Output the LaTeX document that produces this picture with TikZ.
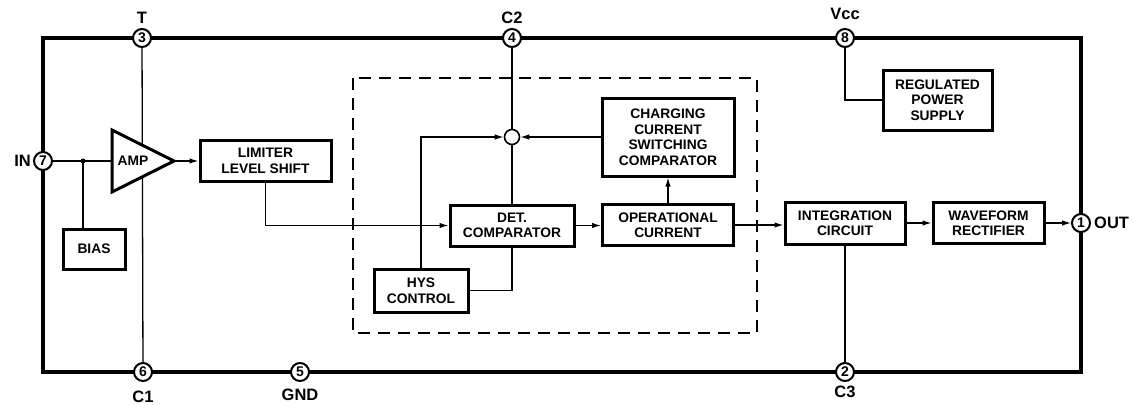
\documentclass[tikz,border=0pt]{standalone}
\usepackage{fontspec}
\setmainfont{Liberation Sans}
\usetikzlibrary{arrows.meta}
\begin{document}
\begin{tikzpicture}[x=1pt,y=-1pt,
 blk/.style={draw,line width=3pt,align=center,inner sep=0pt,font=\fontsize{13.8}{15.5}\selectfont\bfseries},
 pinc/.style={circle,draw,fill=white,line width=2pt,minimum size=18pt,inner sep=0pt,font=\fontsize{14}{14}\selectfont\bfseries},
 plab/.style={font=\fontsize{16.5}{16.5}\selectfont\bfseries,inner sep=0pt},
 wire/.style={line width=1.3pt},
 arr/.style={wire,-{Latex[length=9pt,width=5.5pt]}},
]
\useasboundingbox (0,0) rectangle (1134,404);
% outer border
\draw[line width=3.5pt] (43,38) rectangle (1081,372);
% dashed block
\draw[line width=2.2pt,dash pattern=on 12pt off 8pt] (353,78) rectangle (757,333);
% pins
\node[pinc] (p3) at (142,38) {3};
\node[pinc] (p4) at (512,38) {4};
\node[pinc] (p8) at (845,38) {8};
\node[pinc] (p7) at (43,161) {7};
\node[pinc] (p1) at (1081,223) {1};
\node[pinc] (p6) at (143,372) {6};
\node[pinc] (p5) at (300,372) {5};
\node[pinc] (p2) at (845,372) {2};
% pin labels
\node[plab] (lT) at (142,18) {T};
\node[plab] (lC2) at (512,18) {C2};
\node[plab] (lVcc) at (845,14) {Vcc};
\node[plab,anchor=east] (lIN) at (31,161) {IN};
\node[plab,anchor=west] (lOUT) at (1094,223) {OUT};
\node[plab] (lC1) at (143,397) {C1};
\node[plab] (lGND) at (300,395) {GND};
\node[plab] (lC3) at (845,392) {C3};
% blocks
\node[blk,minimum width=131pt,minimum height=41pt] (lim) at (265.5,161) {LIMITER\\LEVEL SHIFT};
\node[blk,minimum width=62pt,minimum height=40pt] (bias) at (94,249) {BIAS};
\node[blk,minimum width=124pt,minimum height=41pt] (det) at (512,225.5) {DET.\\COMPARATOR};
\node[blk,minimum width=131pt,minimum height=41pt] (oper) at (668,225) {OPERATIONAL\\CURRENT};
\node[blk,minimum width=132pt,minimum height=78pt] (chg) at (668,137) {CHARGING\\CURRENT\\SWITCHING\\COMPARATOR};
\node[blk,minimum width=94pt,minimum height=43pt] (hys) at (421,290.5) {HYS\\CONTROL};
\node[blk,minimum width=120pt,minimum height=42pt] (integ) at (845,223) {INTEGRATION\\CIRCUIT};
\node[blk,minimum width=111pt,minimum height=41pt] (wave) at (988.5,223) {WAVEFORM\\RECTIFIER};
\node[blk,minimum width=109pt,minimum height=60pt] (reg) at (937.5,100) {REGULATED\\POWER\\SUPPLY};
% amplifier
\draw[wire] (p3) -- (p6);
\coordinate (ampin) at (112,161);
\coordinate (amptip) at (174,161);
\draw[line width=3pt,fill=white,line join=miter] (112,130) -- (amptip) -- (112,192) -- cycle;
\node[font=\fontsize{13.8}{13.8}\selectfont\bfseries,inner sep=0pt] (amp) at (133,161) {AMP};
\coordinate (jn) at (83,161);
\draw[wire] (p7) -- (ampin);
\fill (jn) circle (2.5pt);
\draw[wire] (jn) -- (jn |- bias.north);
\draw[arr] (amptip) -- (lim.west);
% summing point
\node[circle,draw,line width=1.6pt,minimum size=15pt,inner sep=0pt] (sum) at (512,137) {};
\draw[wire] (p4) -- (sum.north);
\draw[wire] (sum.south) -- (det.north);
\draw[arr] (chg.west) -- (sum.east);
\draw[arr] (hys.north) |- (sum.west);
\draw[wire] (hys.east) -| (det.south);
\draw[arr] (lim.south) |- (det.west);
\draw[arr] (det.east) -- (det.east -| oper.west);
\draw[arr] (oper.north) -- (chg.south);
\draw[arr] (oper.east) -- (oper.east -| integ.west);
\draw[arr] (integ.east) -- (wave.west);
\draw[arr] (wave.east) -- (p1.west);
\draw[wire] (integ.south) -- (p2);
\draw[wire] (p8) |- (reg.west);
\end{tikzpicture}
\end{document}
